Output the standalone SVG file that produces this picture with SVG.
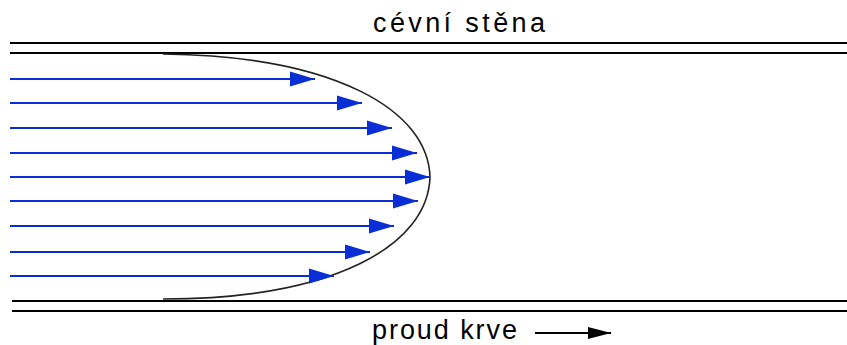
<svg xmlns="http://www.w3.org/2000/svg" width="847" height="345" viewBox="0 0 847 345">
<style>
.wall{stroke:#000;stroke-width:2;fill:none}
.flow{stroke:#0a2ed6;stroke-width:2;fill:none}
.lbl{font-family:"Liberation Sans",Arial,sans-serif;font-size:27px;fill:#000}
</style>
<defs>
<marker id="ah" markerWidth="26" markerHeight="16" refX="25" refY="8" orient="auto" markerUnits="userSpaceOnUse">
<path d="M0,0.5 L25,8 L0,15.5 Z" fill="#0a2ed6"/>
</marker>
<marker id="bh" markerWidth="24" markerHeight="14" refX="23" refY="7" orient="auto" markerUnits="userSpaceOnUse">
<path d="M0,1 L23,7 L0,13 Z" fill="#000"/>
</marker>
</defs>
<g id="walls">
<line class="wall" x1="10" y1="43" x2="847" y2="43"/>
<line class="wall" x1="10" y1="53" x2="847" y2="53"/>
<line class="wall" x1="12" y1="301" x2="847" y2="301"/>
<line class="wall" x1="12" y1="311" x2="847" y2="311"/>
</g>
<g id="profile">
<path d="M163,54 C335,56 428,110 430,177 C428,245 335,299 163,299" stroke="#222" stroke-width="1.6" fill="none"/>
</g>
<g id="connectors">
<line class="flow" x1="10" y1="79" x2="315" y2="79" marker-end="url(#ah)"/>
<line class="flow" x1="10" y1="103" x2="362" y2="103" marker-end="url(#ah)"/>
<line class="flow" x1="10" y1="128" x2="392" y2="128" marker-end="url(#ah)"/>
<line class="flow" x1="10" y1="153" x2="417" y2="153" marker-end="url(#ah)"/>
<line class="flow" x1="10" y1="177" x2="430" y2="177" marker-end="url(#ah)"/>
<line class="flow" x1="10" y1="201" x2="418" y2="201" marker-end="url(#ah)"/>
<line class="flow" x1="10" y1="226" x2="394" y2="226" marker-end="url(#ah)"/>
<line class="flow" x1="10" y1="252" x2="370" y2="252" marker-end="url(#ah)"/>
<line class="flow" x1="10" y1="276" x2="334" y2="276" marker-end="url(#ah)"/>
<line x1="535" y1="333" x2="611" y2="333" stroke="#000" stroke-width="2" marker-end="url(#bh)"/>
</g>
<g id="label-top">
<text class="lbl" x="373" y="32" textLength="172" lengthAdjust="spacing">cévní stěna</text>
</g>
<g id="label-bottom">
<text class="lbl" x="372" y="339" textLength="145" lengthAdjust="spacing">proud krve</text>
</g>
</svg>
